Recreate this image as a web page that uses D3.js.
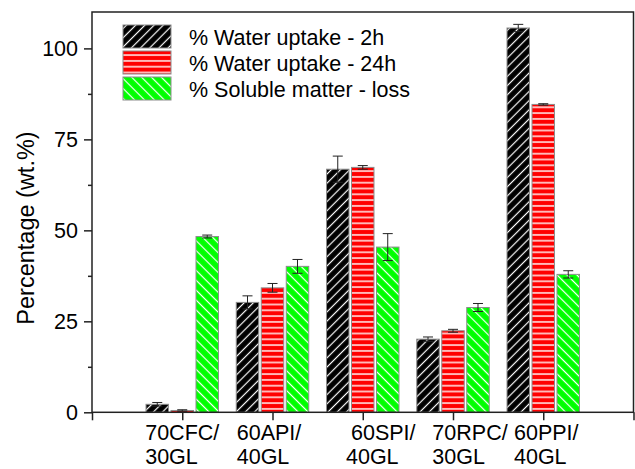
<!DOCTYPE html>
<html>
<head>
<meta charset="utf-8">
<script src="https://cdn.jsdelivr.net/npm/d3@7"></script>
<style>
  html, body { margin: 0; padding: 0; background: #fff; }
  svg { display: block; font-family: "Liberation Sans", Arial, sans-serif; }
</style>
</head>
<body>
<svg id="chart" width="635" height="469"></svg>
<script>
// ---- data ----
const categoryLine1 = ["70CFC/", "60API/", "60SPI/", "70RPC/", "60PPI/"];
const categoryLine2 = ["30GL", "40GL", "40GL", "30GL", "40GL"];
const seriesNames = ["% Water uptake - 2h", "% Water uptake - 24h", "% Soluble matter - loss"];
const uptake2h = [2.2, 30.2, 66.8, 20.1, 105.6];
const uptake2hErr = [0.5, 1.8, 3.6, 0.6, 1.0];
const uptake24h = [0.5, 34.2, 67.3, 22.4, 84.6];
const uptake24hErr = [0.2, 1.2, 0.5, 0.4, 0.2];
const solubleLoss = [48.3, 40.1, 45.4, 28.8, 37.9];
const solubleLossErr = [0.4, 1.9, 3.7, 1.1, 1.0];
const yTickValues = [0, 25, 50, 75, 100];
const yMinorTickValues = [12.5, 37.5, 62.5, 87.5];

(function () {
// ---- layout ----
const padL = 92, padR = 633.5, padT = 12, padB = 412.3;
const svg = d3.select("#chart");

const x = d3.scaleLinear().domain([0, 6]).range([padL, padR]);
const y = d3.scaleLinear().domain([0, 110]).range([padB, padT]);

const defs = svg.append("defs");
function hatch(id, bg, angle, size, lineW) {
  const p = defs.append("pattern").attr("id", id)
    .attr("patternUnits", "userSpaceOnUse")
    .attr("width", size).attr("height", size)
    .attr("patternTransform", `rotate(${angle})`);
  p.append("rect").attr("width", size).attr("height", size).attr("fill", bg);
  p.append("line").attr("x1", size / 2).attr("x2", size / 2).attr("y1", -1).attr("y2", size + 1)
    .attr("stroke", "#fff").attr("stroke-width", lineW);
}
hatch("patBlack", "#000", 45, 6.5, 1.2);
hatch("patGreen", "#00ff00", -45, 7, 1.2);
{
  const p = defs.append("pattern").attr("id", "patRed")
    .attr("patternUnits", "userSpaceOnUse").attr("width", 8).attr("height", 5.8);
  p.append("rect").attr("width", 8).attr("height", 5.8).attr("fill", "#ff0000");
  p.append("rect").attr("y", 2.2).attr("width", 8).attr("height", 1.4).attr("fill", "#fff");
}
const fills = ["url(#patBlack)", "url(#patRed)", "url(#patGreen)"];

const series = [
  { vals: uptake2h, errs: uptake2hErr },
  { vals: uptake24h, errs: uptake24hErr },
  { vals: solubleLoss, errs: solubleLossErr }
];
const barW = 0.249;      // in x units
const barOffset = 0.277; // spacing between bars in a group

series.forEach((s, si) => {
  const g = svg.append("g");
  s.vals.forEach((v, ci) => {
    const cx = ci + 1 + (si - 1) * barOffset;
    const x0 = x(cx - barW / 2), x1 = x(cx + barW / 2);
    g.append("rect")
      .attr("x", x0).attr("y", y(v))
      .attr("width", x1 - x0).attr("height", y(0) - y(v))
      .attr("fill", fills[si])
      .attr("stroke", "#8c8c8c").attr("stroke-width", 1);
  });
});
// error bars
series.forEach((s, si) => {
  const g = svg.append("g").attr("stroke", "#222").attr("stroke-width", 1).attr("fill", "none");
  s.vals.forEach((v, ci) => {
    const cx = x(ci + 1 + (si - 1) * barOffset);
    const e = s.errs[ci];
    const yT = y(v + e), yB = y(Math.max(0, v - e));
    g.append("line").attr("x1", cx).attr("x2", cx).attr("y1", yT).attr("y2", yB);
    g.append("line").attr("x1", cx - 5).attr("x2", cx + 5).attr("y1", yT).attr("y2", yT);
    g.append("line").attr("x1", cx - 5).attr("x2", cx + 5).attr("y1", yB).attr("y2", yB);
  });
});

// frame
svg.append("rect").attr("x", padL).attr("y", padT)
  .attr("width", padR - padL).attr("height", padB - padT)
  .attr("fill", "none").attr("stroke", "#222").attr("stroke-width", 1.5);

// y axis
const yAxis = d3.axisLeft(y).tickValues(yTickValues).tickSize(8).tickPadding(6).tickFormat(d3.format("d"));
const gy = svg.append("g").attr("transform", `translate(${padL},0)`).call(yAxis);
gy.select(".domain").remove();
gy.selectAll(".tick line").attr("stroke", "#222").attr("stroke-width", 1.5);
gy.selectAll(".tick text").attr("font-size", 21.5).attr("fill", "#000")
  .attr("font-family", "Liberation Sans, Arial, sans-serif");
const gym = svg.append("g").attr("transform", `translate(${padL},0)`)
  .call(d3.axisLeft(y).tickValues(yMinorTickValues).tickSize(4).tickFormat(""));
gym.select(".domain").remove();
gym.selectAll(".tick line").attr("stroke", "#222").attr("stroke-width", 1.5);

// x axis ticks
const gx = svg.append("g").attr("transform", `translate(0,${padB})`)
  .call(d3.axisBottom(x).tickValues([0, 1, 2, 3, 4, 5, 6]).tickSize(8).tickFormat(""));
gx.select(".domain").remove();
gx.selectAll(".tick line").attr("stroke", "#222").attr("stroke-width", 1.5);

// x labels (two lines, left-aligned block)
const labelNudge = [0, -3.5, 20.5, 17, 3];
const labelNudge2 = [0, 0, -5, 0, 0];
const xl = svg.append("g").attr("font-size", 21.5).attr("fill", "#000");
categoryLine1.forEach((l1, i) => {
  const t = xl.append("text").attr("x", 0).attr("y", 440).text(l1);
  const w = t.node().getComputedTextLength();
  const lx = x(i + 1) - w / 2 + labelNudge[i];
  t.attr("x", lx);
  xl.append("text").attr("x", lx + labelNudge2[i]).attr("y", 463.5).text(categoryLine2[i]);
});

// y title
svg.append("text")
  .attr("transform", `translate(33.5, 228) rotate(-90)`)
  .attr("text-anchor", "middle").attr("font-size", 23.5).attr("fill", "#000")
  .text("Percentage (wt.%)");

// legend
const lg = svg.append("g");
seriesNames.forEach((name, i) => {
  const yy = 25 + i * 26;
  lg.append("rect").attr("x", 123).attr("y", yy).attr("width", 48).attr("height", 23)
    .attr("fill", fills[i]).attr("stroke", "#8c8c8c").attr("stroke-width", 1);
  lg.append("text").attr("x", 189).attr("y", yy + 19.5)
    .attr("font-size", 21.5).attr("fill", "#000").text(name);
});
})();
</script>
</body>
</html>
